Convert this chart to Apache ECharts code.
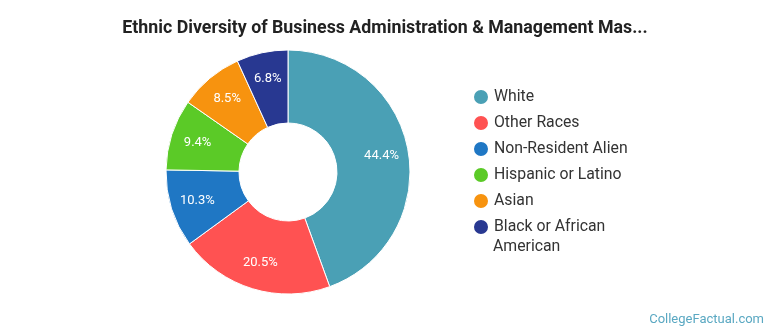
<!DOCTYPE html>
<html><head><meta charset="utf-8">
<script src="https://cdn.jsdelivr.net/npm/echarts@6/dist/echarts.min.js"></script>
<style>html,body{margin:0;padding:0;background:#fff}#c{width:770px;height:335px}</style>
</head><body><div id="c"></div>
<script>
const titleText = 'Ethnic Diversity of Business Administration & Management Mas...';
const categories = ['White','Other Races','Non-Resident Alien','Hispanic or Latino','Asian','Black or African American'];
const values = [44.4, 20.5, 10.3, 9.4, 8.5, 6.8];
const colors = ['#4aa0b5','#ff5252','#1f77c4','#5bca27','#f7930f','#283891'];
const legendLines = {'Black or African American': ['Black or African', 'American']};

const chart = echarts.init(document.getElementById('c'), null, {renderer:'canvas'});
const font = 'Roboto, "Noto Sans", sans-serif';
const mainData = categories.map((n,i)=>({name:n, value:values[i], itemStyle:{color:colors[i]}}));
const labelData = categories.map((n,i)=>({name:n, value:values[i]}));
chart.setOption({
  animation:false,
  title:{text:titleText, left:'center', top:15, textStyle:{fontFamily:font, fontSize:17.8, fontWeight:'bold', color:'#222'}},
  legend:{
    orient:'vertical', left:467, top:82, itemWidth:16, itemHeight:16, itemGap:6, icon:'circle',
    textStyle:{fontFamily:font, fontSize:15.8, color:'#333', lineHeight:20},
    data: categories,
    formatter: n => legendLines[n] ? legendLines[n][0] : n,
    selectedMode:false
  },
  graphic:[
    {type:'text', right:6, top:313, style:{text:'CollegeFactual.com', fill:'#5aa8c2', font:'13px Roboto, sans-serif'}},
    {type:'text', x:493, y:247, style:{text:legendLines['Black or African American'][1], fill:'#333', font:'15.8px Roboto, "Noto Sans", sans-serif', verticalAlign:'middle'}}
  ],
  series:[
    {type:'pie', center:[288,172], radius:[49,122], startAngle:90, clockwise:true,
     itemStyle:{borderColor:'#fff', borderWidth:1}, label:{show:false}, labelLine:{show:false},
     emphasis:{disabled:true}, data:mainData},
    {type:'pie', center:[288,172], radius:[62,122], startAngle:90, clockwise:true, silent:true,
     itemStyle:{color:'rgba(0,0,0,0)', borderWidth:0},
     label:{show:true, position:'inside', formatter: p => p.value.toFixed(1)+'%', color:'#fff', fontFamily:font, fontSize:13},
     labelLine:{show:false}, emphasis:{disabled:true}, data:labelData}
  ]
});
</script></body></html>
